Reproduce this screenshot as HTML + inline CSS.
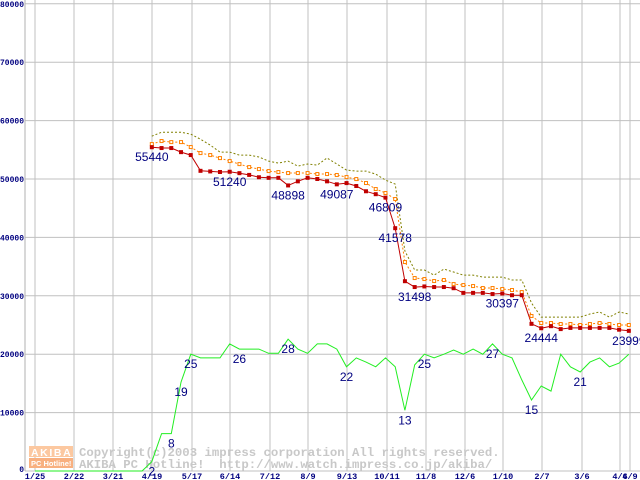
<!DOCTYPE html>
<html><head><meta charset="utf-8">
<style>
html,body{margin:0;padding:0;background:#fff;}
svg{display:block;}
.tk{font-family:"Liberation Mono",monospace;font-weight:bold;font-size:8.5px;fill:#000080;}
.lb{font-family:"Liberation Sans",sans-serif;font-size:12px;fill:#000080;}
.wm{font-family:"Liberation Mono",monospace;font-weight:bold;font-size:12.3px;fill:#c8c8c8;}
</style></head>
<body>
<svg id="chart" width="640" height="480" viewBox="0 0 640 480" xmlns="http://www.w3.org/2000/svg">
<g id="grid"></g>
<g id="wmark">
  <rect x="29" y="446" width="44" height="11" fill="#fcc8a0"/>
  <text x="31" y="456" font-family="Liberation Sans,sans-serif" font-weight="bold" font-size="10.5" fill="#fff" letter-spacing="1.6">AKIBA</text>
  <rect x="29" y="458" width="44" height="10" fill="#f8b080"/>
  <text x="31" y="466" font-family="Liberation Sans,sans-serif" font-weight="bold" font-size="7.5" fill="#fff">PC Hotline!</text>
  <text class="wm" x="79" y="456">Copyright(c)2003 impress corporation All rights reserved.</text>
  <text class="wm" x="79" y="468" xml:space="preserve">AKIBA PC Hotline!  http://www.watch.impress.co.jp/akiba/</text>
</g>
<g id="series"></g>
<g id="labels"></g>
</svg>
<script>
// y ticks
const yTicks = [0,10000,20000,30000,40000,50000,60000,70000,80000];
// x tick labels
const xTickLabels = ["1/25","2/22","3/21","4/19","5/17","6/14","7/12","8/9","9/13","10/11","11/8","12/6","1/10","2/7","3/6","4/6","4/9"];
const xTickWeeks = [0,4,8,12,16,20,24,28,33,37,41,45,50,54,58,62,62.6];
// price series start at week 12
const priceStart = 12;
const redMin = [55440,55300,55300,54600,54100,51400,51300,51200,51240,51000,50700,50300,50200,50200,48898,49600,50200,50000,49600,49087,49300,48800,47900,47400,46809,41578,32500,31498,31600,31500,31500,31300,30500,30500,30500,30300,30397,30100,30100,25200,24444,24800,24300,24500,24500,24500,24500,24500,24200,23999];
const orangeAvg = [55980,56500,56320,56320,55470,54440,54100,53580,53070,52550,52040,51700,51360,51190,51020,51020,51020,50850,50850,50680,50330,49990,49310,48280,47600,46570,35780,33040,32870,32530,32700,32010,31840,31670,31330,31330,31160,30990,30640,26540,25340,25340,25170,25170,25000,25170,25340,25170,25000,25000];
const oliveMax = [57330,58010,58010,58010,57670,56810,55810,54610,54610,54100,54100,53760,53070,52730,53070,52210,52560,52380,53590,52560,51530,51360,51360,50840,49810,49130,37670,34410,34410,33550,34580,34070,33550,33550,33210,33210,33210,32700,32700,28760,26360,26360,26360,26360,26360,26880,27220,26360,27220,26880];
// shop counts (from week 0)
const shopCounts = [0,0,0,0,0,0,0,0,0,0,0,0,2,8,8,19,25,24.2,24.2,24.2,27.2,26.1,26.1,26.1,25.2,25.2,28.2,26.1,25.2,27.2,27.2,26.1,22.3,24.2,23.3,22.3,24.2,22.3,13,22.7,25,24.2,25,25.9,25,26.1,25,27.2,25,24.2,19.5,15.2,18.2,17.1,25,22.3,21.2,23.3,24.2,22.3,23.1,25];
const countScale = 800;
const redLabelIdx = [0,8,14,19,24,25,27,36,40,49];
const countLabelIdx = [12,14,15,16,21,26,32,38,40,47,51,56];

const NS="http://www.w3.org/2000/svg";
const X0=35, WK=9.735, Y0=471, PX=58.4/10000;
function xs(w){return X0+w*WK;}
function ys(v){return Y0-v*PX;}
function mk(tag,attrs,parent){const e=document.createElementNS(NS,tag);for(const k in attrs)e.setAttribute(k,attrs[k]);parent.appendChild(e);return e;}
const grid=document.getElementById('grid'), ser=document.getElementById('series'), lab=document.getElementById('labels');

yTicks.forEach(v=>{
  const l=mk('line',{x1:25,x2:640,y1:ys(v),y2:ys(v),stroke:'#c0c0c0','stroke-width':1},grid);
  
  
  const s=String(v);
  const w=s.length*4.8;
  const t=mk('text',{x:24-w,y:(v===0?ys(v)+1:Math.max(7,ys(v)+3)),class:'tk',textLength:w,lengthAdjust:'spacingAndGlyphs'},grid);
  t.textContent=s;
  
  
});
const gx=[35,74,113,152,192,230,270,308,347,387,426,465,503,542,582,620,630];
xTickLabels.forEach((s,i)=>{
  const x=gx[i];
  const l=mk('line',{x1:x,x2:x,y1:0,y2:471,stroke:'#c0c0c0','stroke-width':1},grid);
  
  
  const t=mk('text',{x:x,y:479,'text-anchor':'middle',class:'tk'},grid);
  t.textContent=s;
  
  
});
const ax=mk('line',{x1:25,x2:25,y1:0,y2:471,stroke:'#b0b0b0','stroke-width':1},grid);



function poly(vals,start,scale,attrs,name){
  const pts=vals.map((v,i)=>xs(start+i).toFixed(1)+','+ys(v*scale).toFixed(1)).join(' ');
  const p=mk('polyline',Object.assign({points:pts,fill:'none'},attrs),ser);
  
  
}
poly(shopCounts,0,countScale,{stroke:'#22ee22','stroke-width':1},'shop-count-line');
poly(oliveMax,priceStart,1,{stroke:'#808000','stroke-width':1,'stroke-dasharray':'2,2'},'max-price-line');
poly(orangeAvg,priceStart,1,{stroke:'#ff8000','stroke-width':1,'stroke-dasharray':'2,2'},'avg-price-line');
poly(redMin,priceStart,1,{stroke:'#c00000','stroke-width':1},'min-price-line');
orangeAvg.forEach((v,i)=>{
  const r=mk('rect',{x:xs(priceStart+i)-1.5,y:ys(v)-1.5,width:3,height:3,fill:'#fff',stroke:'#ff8000','stroke-width':1},ser);
  
  
});
redMin.forEach((v,i)=>{
  const r=mk('rect',{x:xs(priceStart+i)-2,y:ys(v)-2,width:4,height:4,fill:'#c00000'},ser);
  
  
});
redLabelIdx.forEach(i=>{
  const t=mk('text',{x:xs(priceStart+i),y:ys(redMin[i])+14,'text-anchor':'middle',class:'lb'},lab);
  t.textContent=String(redMin[i]);
  
  
});
countLabelIdx.forEach(i=>{
  const t=mk('text',{x:xs(i),y:ys(shopCounts[i]*countScale)+14,'text-anchor':'middle',class:'lb'},lab);
  t.textContent=String(Math.round(shopCounts[i]));
  
  
});
</script>
</body></html>
